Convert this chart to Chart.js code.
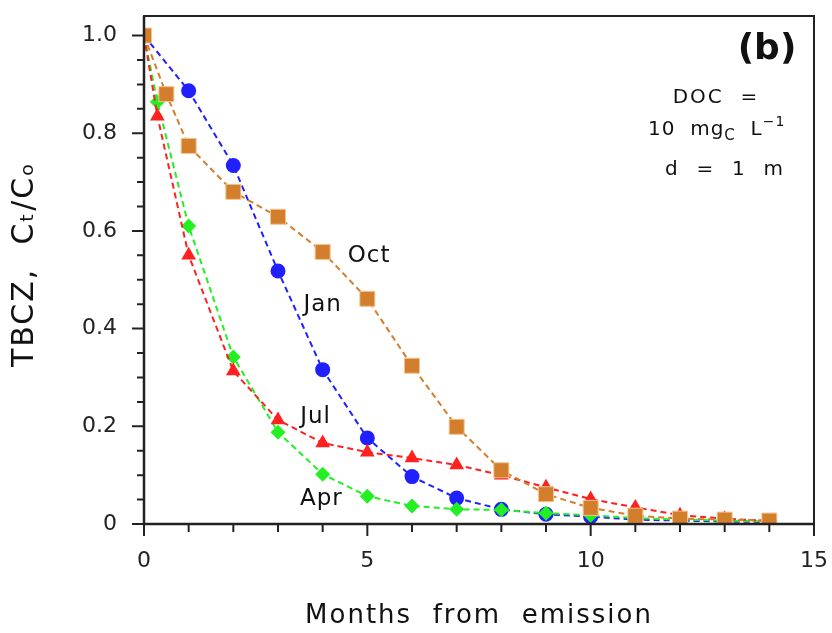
<!DOCTYPE html>
<html>
<head>
<meta charset="utf-8">
<script src="https://cdn.jsdelivr.net/npm/chart.js@4.4.1/dist/chart.umd.min.js"></script>
<style>
  html, body { margin: 0; padding: 0; background: #fff; }
  #wrap { width: 832px; height: 633px; position: relative; }
</style>
</head>
<body>
<div id="wrap"><canvas id="tbcz"></canvas></div>
<script>
// months from emission for each series
const octMonths = [0, 0.5, 1, 2, 3, 4, 5, 6, 7, 8, 9, 10, 11, 12, 13, 14];
const janMonths = [0, 1, 2, 3, 4, 5, 6, 7, 8, 9, 10, 11, 12, 13, 14];
const julMonths = [0, 0.3, 1, 2, 3, 4, 5, 6, 7, 8, 9, 10, 11, 12, 13, 14];
const aprMonths = [0, 0.3, 1, 2, 3, 4, 5, 6, 7, 8, 9, 10, 11, 12, 13, 14];

// Ct/Co values
const octValues = [1.0, 0.88, 0.774, 0.68, 0.629, 0.557, 0.461, 0.324, 0.199, 0.11, 0.061, 0.033, 0.017, 0.011, 0.009, 0.007];
const janValues = [1.0, 0.887, 0.734, 0.518, 0.316, 0.176, 0.097, 0.053, 0.030, 0.020, 0.015, 0.009, 0.007, 0.005, 0.004];
const julValues = [1.0, 0.835, 0.55, 0.313, 0.213, 0.166, 0.147, 0.135, 0.121, 0.10, 0.075, 0.051, 0.034, 0.018, 0.011, 0.006];
const aprValues = [1.0, 0.864, 0.61, 0.342, 0.188, 0.102, 0.057, 0.037, 0.030, 0.029, 0.022, 0.018, 0.012, 0.009, 0.007, 0.005];

// curve labels and where they sit (data coords)
const curveNames = ['Oct', 'Jan', 'Jul', 'Apr'];
const curveLabelX = [5.04, 4.0, 3.84, 3.97];
const curveLabelY = [0.548, 0.448, 0.218, 0.051];

const xTickLabels = ['0', '5', '10', '15'];
const yTickLabels = ['0', '0.2', '0.4', '0.6', '0.8', '1.0'];

const FONT = '"DejaVu Sans", sans-serif';

function pts(xs, ys) {
  return xs.map((x, i) => ({ x: x, y: ys[i] }));
}

function series(label, xs, ys, color, style, radius, border) {
  return {
    label: label,
    data: pts(xs, ys),
    showLine: true,
    borderColor: color,
    borderWidth: 2,
    borderDash: [6, 4],
    backgroundColor: color,
    pointStyle: style,
    pointRadius: radius,
    pointHoverRadius: radius,
    pointBackgroundColor: color,
    pointBorderColor: border || color,
    pointBorderWidth: border ? 1 : 0,
    tension: 0,
  };
}

// wider letter spacing for the axis titles only (tick labels are drawn after datasets)
const spacing = {
  id: 'spacing',
  beforeDraw(chart) { chart.ctx.letterSpacing = '2px'; },
  beforeDatasetsDraw(chart) { chart.ctx.letterSpacing = '0px'; },
};

// minor/major tick marks + frame box
const frameTicks = {
  id: 'frameTicks',
  afterDraw(chart) {
    const { ctx, chartArea: a, scales } = chart;
    const xs = scales.x, ys = scales.y;
    ctx.save();
    ctx.strokeStyle = '#222';
    ctx.lineWidth = 2;
    ctx.strokeRect(a.left, a.top, a.right - a.left, a.bottom - a.top);
    ctx.lineWidth = 2.5;
    ctx.beginPath();
    ctx.moveTo(a.left, a.top); ctx.lineTo(a.left, a.bottom);
    ctx.lineTo(a.right, a.bottom);
    ctx.stroke();
    ctx.lineWidth = 2;
    ctx.beginPath();
    for (let m = 0; m <= 15; m++) {
      const px = xs.getPixelForValue(m);
      const len = m % 5 === 0 ? 12 : 8;
      ctx.moveTo(px, a.bottom); ctx.lineTo(px, a.bottom + len);
    }
    for (let k = 0; k <= 20; k++) {
      const py = ys.getPixelForValue(k * 0.05);
      const len = k % 4 === 0 ? 12 : 7;
      ctx.moveTo(a.left, py); ctx.lineTo(a.left - len, py);
    }
    ctx.stroke();
    ctx.restore();
  }
};

// text inside the plot
const notes = {
  id: 'notes',
  afterDraw(chart) {
    const { ctx, chartArea: a, scales } = chart;
    ctx.save();
    ctx.fillStyle = '#111';
    ctx.textAlign = 'center';
    ctx.textBaseline = 'middle';
    ctx.letterSpacing = '1px';
    ctx.font = '23px ' + FONT;
    curveNames.forEach((n, i) => {
      ctx.fillText(n, scales.x.getPixelForValue(curveLabelX[i]), scales.y.getPixelForValue(curveLabelY[i]));
    });

    ctx.letterSpacing = '0px';
    ctx.font = 'bold 36px ' + FONT;
    ctx.fillText('(b)', a.right - 47, a.top + 34);

    ctx.letterSpacing = '2px';
    ctx.font = '20px ' + FONT;
    ctx.fillText('DOC  =', a.right - 98, a.top + 82);
    ctx.fillText('d  =  1  m', a.right - 89, a.top + 154);

    // 10 mg_C L^-1
    ctx.letterSpacing = '1px';
    ctx.textAlign = 'left';
    let x = a.right - 166;
    const y = a.top + 114;
    const parts = [
      ['10  mg', 20, 0],
      ['C', 15, 6],
      ['  L', 20, 0],
      ['\u22121', 14, -8],
    ];
    parts.forEach(([t, s, dy]) => {
      ctx.font = s + 'px ' + FONT;
      ctx.fillText(t, x, y + dy);
      x += ctx.measureText(t).width;
    });
    ctx.restore();
  }
};

new Chart(document.getElementById('tbcz'), {
  type: 'scatter',
  data: {
    datasets: [
      series('Oct', octMonths, octValues, '#D27E2C', 'rect', 10.6, '#F3C48E'),
      series('Jul', julMonths, julValues, '#FF2020', 'triangle', 8.5),
      series('Apr', aprMonths, aprValues, '#22F022', 'rectRot', 7.5),
      series('Jan', janMonths, janValues, '#2020FF', 'circle', 7.5),
    ]
  },
  options: {
    responsive: true,
    maintainAspectRatio: false,
    animation: false,
    layout: { padding: { top: 16, right: 18, left: 0, bottom: 0 } },
    plugins: { legend: { display: false }, tooltip: { enabled: false } },
    scales: {
      x: {
        type: 'linear',
        min: 0,
        max: 15,
        grid: { display: true, drawOnChartArea: false, drawTicks: true, tickLength: 22, tickColor: 'rgba(0,0,0,0)' },
        border: { display: false },
        afterFit(scale) { scale.height = 109; },
        ticks: {
          z: 1,
          stepSize: 5,
          padding: 2,
          color: '#222',
          font: { family: FONT, size: 22 },
          callback: (v) => xTickLabels[v / 5],
        },
        title: {
          display: true,
          text: 'Months  from  emission',
          color: '#111',
          font: { family: FONT, size: 26 },
          padding: { top: 0, bottom: 1 },
        },
      },
      y: {
        min: 0,
        max: 1.04,
        grid: { display: true, drawOnChartArea: false, drawTicks: true, tickLength: 25, tickColor: 'rgba(0,0,0,0)' },
        border: { display: false },
        afterFit(scale) { scale.width = 144; },
        ticks: {
          z: 1,
          stepSize: 0.2,
          includeBounds: false,
          padding: 2,
          color: '#222',
          font: { family: FONT, size: 22 },
          callback: (v) => yTickLabels[Math.round(v / 0.2)],
        },
        title: {
          display: true,
          text: ' TBCZ,  C\u209C/C\u2092',
          color: '#111',
          font: { family: FONT, size: 30 },
          padding: { top: 7, bottom: 0 },
        },
      },
    },
  },
  plugins: [spacing, frameTicks, notes],
});
</script>
</body>
</html>
